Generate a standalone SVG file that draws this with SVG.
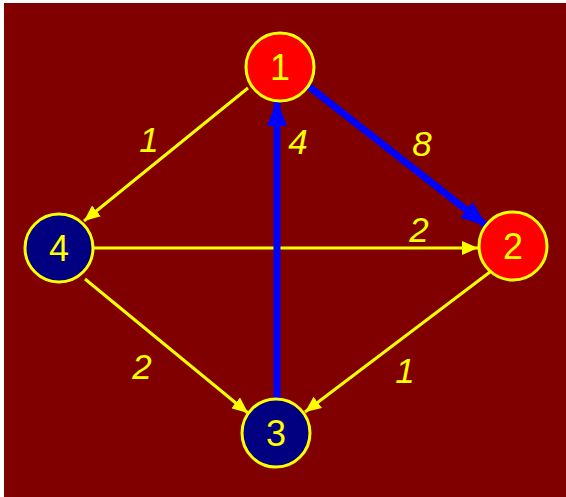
<svg xmlns="http://www.w3.org/2000/svg" width="566" height="497" viewBox="0 0 566 497">
<style>
.node{stroke:#ffff00;stroke-width:3}
.red{fill:#ff0000}
.navy{fill:#000080}
.nl{font-family:"Liberation Sans",Arial,sans-serif;font-size:36px;fill:#ffff00;text-anchor:middle}
.el{font-family:"Liberation Sans",Arial,sans-serif;font-size:35px;font-style:italic;fill:#ffff00;text-anchor:middle}
.y{stroke:#ffff00;stroke-width:3;fill:none;marker-end:url(#ay)}
.b{stroke:#0000ff;stroke-width:7;fill:none;marker-end:url(#ab)}
</style>
<defs>
<marker id="ay" markerUnits="userSpaceOnUse" markerWidth="16" markerHeight="14" refX="16" refY="7" orient="auto">
<path d="M0,0 L16,7 L0,14 z" fill="#ffff00"/>
</marker>
<marker id="ab" markerUnits="userSpaceOnUse" markerWidth="26" markerHeight="20" refX="26" refY="10" orient="auto">
<path d="M0,0 L26,10 L0,20 z" fill="#0000ff"/>
</marker>
</defs>
<rect x="4" y="3" width="562" height="494" fill="#800000"/>
<g id="edges">
<path class="y" d="M248,88 L84,221"/>
<path class="y" d="M94,248 L478,248"/>
<path class="y" d="M85,279 L248,413"/>
<path class="y" d="M490,272 L305,412"/>
<path class="b" d="M277,398 L277,100"/>
<path class="b" d="M307,85 L487,226"/>
<text class="el" x="149" y="152">1</text>
<text class="el" x="298" y="154">4</text>
<text class="el" x="422" y="156">8</text>
<text class="el" x="419" y="242">2</text>
<text class="el" x="142" y="379">2</text>
<text class="el" x="405" y="383">1</text>
</g>
<g id="n1"><circle class="node red" cx="280" cy="67" r="34"/><text class="nl" x="280" y="80">1</text></g>
<g id="n2"><circle class="node red" cx="513" cy="246" r="34"/><text class="nl" x="513" y="259">2</text></g>
<g id="n4"><circle class="node navy" cx="59" cy="248" r="34"/><text class="nl" x="59" y="261">4</text></g>
<g id="n3"><circle class="node navy" cx="276" cy="433" r="34"/><text class="nl" x="276" y="446">3</text></g>
</svg>
